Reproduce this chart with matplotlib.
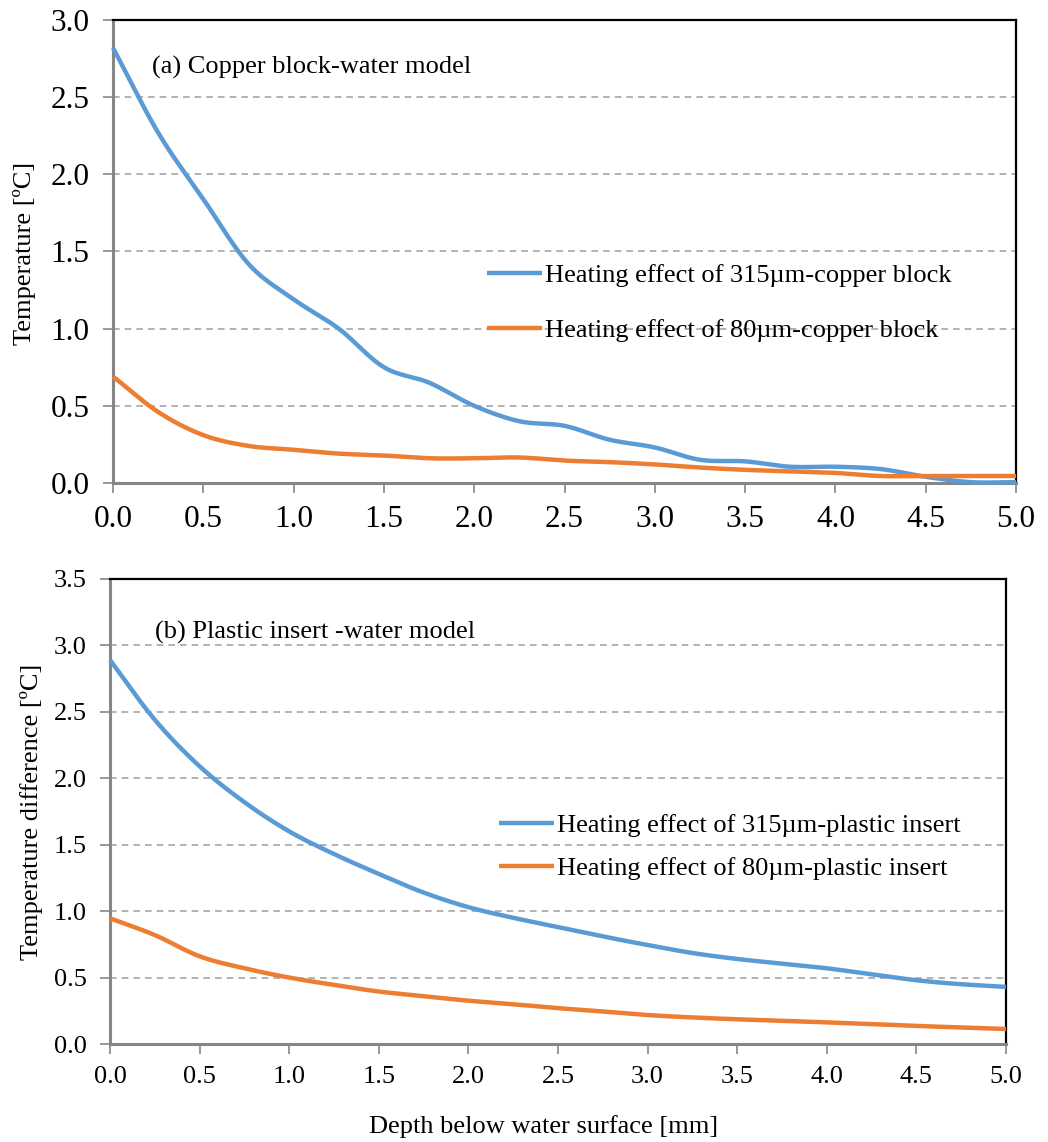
import numpy as np
import matplotlib
matplotlib.use("Agg")
import matplotlib.pyplot as plt
from matplotlib.ticker import FormatStrFormatter

plt.rcParams['font.family'] = ['Liberation Serif', 'DejaVu Serif']

# %% Data (depth in mm, temperature in degC)
depth = [0.0, 0.25, 0.5, 0.75, 1.0, 1.25, 1.5, 1.75, 2.0, 2.25, 2.5,
         2.75, 3.0, 3.25, 3.5, 3.75, 4.0, 4.25, 4.5, 4.75, 5.0]

copper_315 = [2.82, 2.27, 1.84, 1.42, 1.19, 1.00, 0.75, 0.65, 0.50, 0.40, 0.37,
              0.28, 0.23, 0.15, 0.14, 0.105, 0.105, 0.09, 0.04, 0.005, 0.005]
copper_80 = [0.69, 0.46, 0.31, 0.24, 0.215, 0.19, 0.178, 0.16, 0.16, 0.165, 0.145,
             0.135, 0.12, 0.10, 0.085, 0.075, 0.065, 0.045, 0.045, 0.045, 0.045]

plastic_315 = [2.89, 2.44, 2.09, 1.82, 1.60, 1.43, 1.28, 1.14, 1.03, 0.95, 0.88,
               0.81, 0.745, 0.685, 0.64, 0.605, 0.57, 0.525, 0.48, 0.45, 0.43]
plastic_80 = [0.946, 0.82, 0.66, 0.57, 0.50, 0.445, 0.395, 0.36, 0.326, 0.30, 0.27,
              0.245, 0.218, 0.20, 0.186, 0.175, 0.163, 0.15, 0.136, 0.125, 0.113]

labels_a = ["Heating effect of 315\u00b5m-copper block",
            "Heating effect of 80\u00b5m-copper block"]
labels_b = ["Heating effect of 315\u00b5m-plastic insert",
            "Heating effect of 80\u00b5m-plastic insert"]

BLUE = "#5B9BD5"
ORANGE = "#ED7D31"


def smooth(x, y, n=24):
    # Catmull-Rom curve through the points, like Excel's "smoothed line"
    x = np.asarray(x, float)
    y = np.asarray(y, float)
    px = np.concatenate([[2 * x[0] - x[1]], x, [2 * x[-1] - x[-2]]])
    py = np.concatenate([[2 * y[0] - y[1]], y, [2 * y[-1] - y[-2]]])
    t = np.linspace(0, 1, n, endpoint=False)
    xs, ys = [], []
    for i in range(1, len(px) - 2):
        for p, out in ((px, xs), (py, ys)):
            p0, p1, p2, p3 = p[i - 1], p[i], p[i + 1], p[i + 2]
            out.append(0.5 * (2 * p1 + (-p0 + p2) * t
                              + (2 * p0 - 5 * p1 + 4 * p2 - p3) * t ** 2
                              + (-p0 + 3 * p1 - 3 * p2 + p3) * t ** 3))
    xs.append([x[-1]])
    ys.append([y[-1]])
    return np.concatenate(xs), np.concatenate(ys)


def style(ax, ymax, tick_size):
    ax.set_xlim(0, 5)
    ax.set_ylim(0, ymax)
    ax.set_xticks(np.arange(0, 5.01, 0.5))
    ax.set_yticks(np.arange(0, ymax + 0.01, 0.5))
    ax.xaxis.set_major_formatter(FormatStrFormatter('%.1f'))
    ax.yaxis.set_major_formatter(FormatStrFormatter('%.1f'))
    ax.grid(axis='y', color='#A6A6A6', linestyle=(0, (4, 3)), linewidth=1.2)
    ax.set_axisbelow(True)
    for side in ['left', 'bottom']:
        ax.spines[side].set_color('#868686')
        ax.spines[side].set_linewidth(2.2)
    for side in ['top', 'right']:
        ax.spines[side].set_color('black')
        ax.spines[side].set_linewidth(1.6)
    ax.tick_params(direction='out', length=7, width=1.2, color='#868686',
                   labelsize=tick_size, labelcolor='black')
    ax.tick_params(axis='x', pad=9)
    ax.tick_params(axis='y', pad=10)


fig = plt.figure(figsize=(10.48, 11.42), dpi=100)

# %% (a) copper block
ax1 = fig.add_axes([0.1078, 0.5771, 0.8617, 0.4054])
style(ax1, 3.0, 22.5)
ax1.plot(*smooth(depth, copper_315), color=BLUE, lw=3.2, label=labels_a[0],
         solid_capstyle='butt', clip_on=False, zorder=3)
ax1.plot(*smooth(depth, copper_80), color=ORANGE, lw=3.2, label=labels_a[1],
         solid_capstyle='butt', clip_on=False, zorder=3)
ax1.text(0.216, 2.69, "(a) Copper block-water model", fontsize=19, va='center')
ax1.legend(loc='center left', bbox_to_anchor=(0.414, 0.389), frameon=False,
           fontsize=19, handlelength=2.1, handletextpad=0.1, labelspacing=1.2,
           borderpad=0, borderaxespad=0)

# %% (b) plastic insert
ax2 = fig.add_axes([0.1050, 0.0858, 0.8549, 0.4072])
style(ax2, 3.5, 19)
ax2.plot(*smooth(depth, plastic_315), color=BLUE, lw=3.2, label=labels_b[0],
         solid_capstyle='butt', clip_on=False, zorder=3)
ax2.plot(*smooth(depth, plastic_80), color=ORANGE, lw=3.2, label=labels_b[1],
         solid_capstyle='butt', clip_on=False, zorder=3)
ax2.text(0.25, 3.10, "(b) Plastic insert -water model", fontsize=19, va='center')
ax2.legend(loc='center left', bbox_to_anchor=(0.434, 0.424), frameon=False,
           fontsize=19, handlelength=2.1, handletextpad=0.1, labelspacing=0.75,
           borderpad=0, borderaxespad=0)

# axis titles placed as in the original figure
fig.text(25 / 1048, 1 - 253 / 1142, "Temperature [\u00baC]", rotation=90,
         ha='center', va='center', fontsize=19)
fig.text(32 / 1048, 1 - 812 / 1142, "Temperature difference [\u00baC]", rotation=90,
         ha='center', va='center', fontsize=19)
fig.text(544 / 1048, 1 - 1127 / 1142, "Depth below water surface [mm]",
         ha='center', va='center', fontsize=19)

fig.savefig("out.png", dpi=100)
